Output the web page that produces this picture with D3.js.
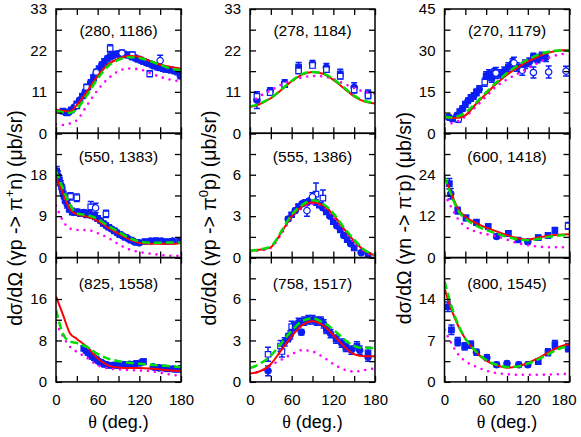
<!DOCTYPE html>
<html>
<head>
<meta charset="utf-8">
<script src="https://cdn.jsdelivr.net/npm/d3@7"></script>
<style>
  body { margin: 0; background: #fff; }
  svg { display: block; }
  text { font-family: "Liberation Sans", Arial, sans-serif; fill: #000; }
</style>
</head>
<body>
<div id="vis"></div>
<script>
const width = 581, height = 437;

// panel labels (W, E) in reading order
const panelLabels = ["(280, 1186)", "(278, 1184)", "(270, 1179)",
                     "(550, 1383)", "(555, 1386)", "(600, 1418)",
                     "(825, 1558)", "(758, 1517)", "(800, 1545)"];
const yMaxes = [33, 33, 45, 27, 9, 36, 24, 9, 21];
const yTickLabels = [[0, 11, 22, 33], [0, 11, 22, 33], [0, 15, 30, 45],
                     [0, 9, 18], [0, 3, 6], [0, 12, 24],
                     [0, 8, 16], [0, 3, 6], [0, 7, 14]];
const thetaTicks = [0, 60, 120, 180];
const yTitles = [["dσ/dΩ (γp -> π", "+", "n) (μb/sr)"],
                 ["dσ/dΩ (γp -> π", "0", "p) (μb/sr)"],
                 ["dσ/dΩ (γn -> π", "-", "p) (μb/sr)"]];

// model curves, sampled on thetaGrid
const thetaGrid = [0, 10, 20, 30, 45, 60, 75, 90, 105, 120, 135, 150, 165, 180];
const redCurves = [
  [6.3, 5.9, 5.8, 7.5, 11.2, 15.2, 18.3, 19.8, 20.5, 20.3, 19.2, 18.2, 17.6, 17.2],
  [7.0, 7.4, 8.3, 9.3, 11.5, 13.8, 15.6, 16.3, 15.8, 14.2, 12.0, 9.8, 8.4, 7.9],
  [5.9, 5.5, 5.6, 6.5, 10.5, 14.3, 18.0, 21.2, 23.8, 26.0, 27.8, 29.2, 30.0, 30.2],
  [17.5, 14.0, 10.5, 9.4, 8.9, 8.0, 6.5, 5.2, 4.0, 3.2, 3.0, 3.0, 3.0, 3.2],
  [0.5, 0.55, 0.6, 0.75, 1.8, 3.0, 3.7, 4.0, 3.8, 3.1, 2.1, 1.2, 0.5, 0.15],
  [23.5, 18.5, 14.0, 11.8, 10.0, 8.7, 7.6, 6.5, 5.6, 5.2, 5.8, 6.3, 6.6, 6.8],
  [16.5, 13.0, 9.4, 8.3, 6.7, 4.5, 3.2, 2.8, 2.7, 2.7, 2.6, 2.4, 2.2, 2.1],
  [0.6, 0.7, 0.9, 1.3, 2.3, 3.3, 4.1, 4.4, 4.1, 3.4, 2.6, 2.0, 1.85, 1.85],
  [15.8, 12.2, 9.4, 7.3, 5.1, 3.6, 2.8, 2.4, 2.6, 3.2, 4.0, 5.0, 5.9, 6.4]
];
const greenCurves = [
  [6.0, 5.6, 5.4, 6.5, 10.2, 14.5, 17.8, 19.5, 20.2, 20.0, 19.2, 18.2, 17.2, 16.8],
  [7.2, 7.6, 8.4, 9.4, 11.6, 13.9, 15.7, 16.3, 15.9, 14.4, 12.2, 10.0, 8.6, 8.0],
  [6.0, 5.7, 6.2, 7.5, 11.0, 14.8, 18.5, 21.8, 24.5, 26.7, 28.4, 29.5, 30.0, 30.0],
  [18.9, 15.0, 11.5, 9.6, 9.2, 8.4, 6.9, 5.6, 4.3, 3.5, 3.2, 3.2, 3.3, 3.3],
  [0.5, 0.55, 0.65, 0.8, 1.9, 3.1, 3.8, 4.15, 3.9, 3.2, 2.2, 1.3, 0.55, 0.2],
  [23.5, 18.0, 13.5, 11.3, 9.3, 8.0, 7.0, 6.0, 5.3, 5.0, 5.4, 6.0, 6.4, 6.7],
  [13.9, 9.3, 7.8, 7.5, 6.7, 5.4, 4.5, 4.0, 3.7, 3.5, 3.3, 3.2, 3.0, 2.9],
  [1.0, 1.2, 1.5, 1.9, 2.8, 3.7, 4.4, 4.6, 4.3, 3.8, 3.1, 2.6, 2.45, 2.45],
  [17.0, 12.8, 9.6, 7.3, 5.2, 3.7, 2.9, 2.5, 2.6, 3.1, 3.8, 4.7, 5.6, 6.1]
];
const pinkCurves = [
  [2.4, 2.2, 2.6, 3.5, 7.5, 11.5, 14.5, 16.5, 17.2, 17.0, 16.0, 15.0, 14.2, 13.8],
  [8.3, 9.3, 10.5, 11.4, 12.9, 14.0, 14.8, 15.2, 15.1, 14.4, 13.2, 12.0, 11.0, 10.6],
  [3.3, 3.6, 4.5, 6.0, 9.5, 13.3, 17.0, 19.5, 21.5, 23.5, 25.5, 27.3, 28.5, 29.0],
  [11.3, 8.0, 6.3, 6.0, 6.0, 5.3, 4.3, 2.9, 1.8, 1.2, 0.9, 0.6, 0.4, 0.4],
  [0.45, 0.5, 0.55, 0.7, 1.7, 2.9, 3.6, 3.9, 3.7, 3.0, 2.0, 1.1, 0.45, 0.1],
  [18.5, 14.5, 11.0, 9.0, 7.5, 6.8, 6.2, 5.2, 4.2, 3.6, 3.2, 3.0, 3.0, 3.0],
  [11.4, 8.8, 6.8, 5.8, 4.6, 3.2, 2.6, 2.4, 2.3, 2.2, 2.1, 1.8, 1.4, 1.2],
  [0.6, 0.7, 0.9, 1.2, 1.6, 2.0, 2.3, 2.2, 1.8, 1.3, 0.9, 0.75, 0.85, 1.0],
  [8.8, 6.5, 4.6, 3.5, 2.6, 1.9, 1.5, 1.3, 1.2, 1.2, 1.2, 1.25, 1.3, 1.4]
];

// measurements: [theta, dsigma, error, dataset]  (dataset 0/1 filled, 2/3 open)
const points = [
  [[10,5.9,0.5,1],[13,5.6,0.5,0],[16,5.4,0.5,1],[19,5.7,0.5,0],[22,6.2,0.5,1],[26,6.9,0.5,0],
   [30,7.8,0.6,1],[34,8.8,0.6,0],[38,9.9,0.6,1],[42,11.0,0.6,0],[46,12.3,0.6,1],[50,13.5,0.7,0],
   [54,14.8,0.7,1],[58,16.0,0.7,0],[62,17.1,0.7,1],[66,18.2,0.7,0],[70,19.1,0.7,1],[74,19.8,0.7,0],
   [78,20.3,0.7,1],[82,20.7,0.7,0],[86,21.0,0.7,1],[90,21.1,0.7,0],[94,21.1,0.7,1],[98,21.0,0.7,0],
   [102,20.8,0.7,1],[106,20.6,0.7,0],[110,20.3,0.7,1],[114,20.0,0.7,0],[118,19.7,0.7,1],[122,19.4,0.7,0],
   [126,19.1,0.7,1],[130,18.8,0.7,0],[134,18.5,0.7,1],[138,18.2,0.7,0],[142,17.9,0.7,1],[146,17.6,0.7,0],
   [150,17.4,0.7,1],[154,17.2,0.7,0],[158,17.0,0.7,1],[162,16.9,0.7,0],[166,16.8,0.7,1],[170,16.6,0.7,0],
   [175,16.3,0.7,1],[179,15.3,0.8,0],
   [30,7.3,0.6,3],[44,12.2,0.8,3],[58,16.2,0.8,2],[78,22.5,1.0,3],[95,21.3,0.8,2],[110,20.8,0.8,3],
   [135,15.8,0.8,3],[150,19.3,1.4,2]],
  [[10,8.8,2.2,0],[10,9.8,1.2,3],[29,11.3,0.8,0],[29,10.8,0.6,3],[50,13.4,0.8,0],[50,12.9,0.6,3],
   [70,17.6,1.2,1],[70,16.6,0.8,3],[90,18.5,0.8,0],[90,18.0,0.6,3],[110,17.5,1.0,0],[110,16.9,0.7,3],
   [130,15.8,1.2,1],[130,15.2,0.8,3],[150,12.2,1.2,0],[150,11.5,0.8,3],[170,10.5,1.0,1],[170,10.0,0.8,3]],
  [[6,5.8,0.8,0],[12,5.2,0.8,1],[18,6.5,0.8,0],[22,7.8,1.0,1],[26,9.0,1.0,0],[30,10.5,1.0,1],
   [34,11.8,1.0,0],[38,12.8,1.2,1],[42,13.5,1.2,0],[46,14.8,1.2,1],[50,16.0,1.2,0],[60,20.8,1.5,1],
   [64,21.5,1.5,0],[68,20.0,1.5,1],[72,22.0,1.5,0],[80,21.5,1.5,1],[86,22.5,1.5,0],[92,24.0,1.5,1],
   [98,25.5,1.5,0],[104,24.0,1.5,1],[110,23.5,1.5,0],[116,25.0,1.5,1],[122,25.8,1.5,0],[128,27.5,1.5,1],
   [134,27.0,1.5,0],[140,27.8,1.5,1],[146,27.5,1.5,0],
   [20,5.0,1.0,2],[58,18.5,1.5,3],[74,21.8,2.0,2],[100,25.5,2.0,2],[112,22.8,1.8,2],[128,22.0,2.0,2],
   [150,22.2,2.2,2],[175,22.5,1.8,2]],
  [[1,18.8,1.0,1],[3,17.8,1.0,0],[5,16.8,1.0,1],[7,15.8,0.9,0],[9,14.8,0.9,1],[11,13.6,0.8,0],
   [13,12.6,0.8,1],[16,11.6,0.8,0],[19,10.6,0.7,1],[23,10.0,0.7,0],[27,9.8,0.6,1],[31,9.9,0.6,0],
   [35,9.6,0.6,1],[40,9.8,0.6,0],[44,9.3,0.6,1],[48,9.6,0.6,0],[52,9.2,0.6,1],[56,8.9,0.6,0],
   [60,8.5,0.6,1],[64,8.0,0.5,0],[68,7.4,0.5,1],[72,7.0,0.5,0],[76,6.6,0.5,1],[80,6.2,0.5,0],
   [84,5.8,0.5,1],[88,5.4,0.5,0],[92,5.0,0.5,1],[96,4.7,0.4,0],[100,4.4,0.4,1],[104,4.1,0.4,0],
   [108,3.8,0.4,1],[112,3.5,0.4,0],[116,3.3,0.4,1],[120,3.2,0.4,0],[128,3.5,0.4,1],[136,3.6,0.4,0],
   [144,3.7,0.4,1],[152,3.6,0.4,0],[160,3.5,0.4,1],[168,3.6,0.4,0],[178,3.7,0.4,1],
   [15,13.1,0.8,3],[21,13.3,0.8,3],[30,13.0,0.8,3],[50,11.0,1.2,3],[57,10.8,1.0,2],[72,9.5,0.8,3]],
  [[55,2.8,0.15,0],[60,3.1,0.15,1],[65,3.4,0.15,0],[70,3.7,0.15,1],[75,3.9,0.15,0],[80,4.0,0.15,1],
   [85,4.1,0.15,0],[90,4.1,0.15,1],[95,4.0,0.15,0],[100,3.8,0.15,1],[105,3.6,0.15,0],[110,3.3,0.15,1],
   [115,3.0,0.15,0],[120,2.6,0.15,1],[125,2.3,0.15,0],[130,2.0,0.15,1],[135,1.6,0.15,0],[140,1.3,0.15,1],
   [145,1.0,0.15,0],[150,0.7,0.15,1],[160,0.35,0.1,0],[170,0.15,0.1,1],
   [82,3.4,0.4,2],[95,4.6,0.8,3],[105,4.3,0.6,3],[90,4.4,0.3,2]],
  [[7,21.4,1.5,1],[9,18.5,1.5,0],[19,13.6,1.0,1],[31,11.5,0.8,1],[46,10.2,0.8,1],[63,9.0,0.7,1],
   [75,6.1,0.6,0],[92,7.0,0.7,1],[106,5.1,0.6,1],[120,4.6,0.6,0],[135,5.8,0.6,1],[149,6.4,0.7,1],
   [159,7.9,0.8,1],[178,9.2,1.0,3]],
  [[40,6.5,0.5,1],[43,6.1,0.5,0],[46,5.7,0.5,1],[49,5.3,0.5,0],[52,4.9,0.4,1],[55,4.6,0.4,0],
   [58,4.3,0.4,1],[61,4.0,0.4,0],[64,3.8,0.4,1],[67,3.6,0.4,0],[70,3.4,0.4,1],[74,3.3,0.4,0],
   [78,3.2,0.4,1],[82,3.2,0.4,0],[86,3.2,0.4,1],[90,3.2,0.4,0],[94,3.3,0.4,1],[98,3.3,0.4,0],
   [102,3.3,0.4,1],[106,3.4,0.4,0],[110,3.4,0.4,1],[114,3.5,0.4,0],[118,3.6,0.4,1],[122,3.7,0.4,0],
   [126,3.9,0.5,1],[140,2.9,0.4,0],[144,2.8,0.4,1],[148,2.7,0.4,0],[152,2.7,0.4,1],[158,2.6,0.4,0],
   [164,2.5,0.4,1],[170,2.5,0.4,0],[176,2.4,0.4,1],[180,2.6,0.5,0]],
  [[26,0.8,0.35,0],[26,2.0,0.5,3],[44,2.6,0.4,3],[46,2.2,0.4,3],[50,2.9,0.3,0],[55,3.2,0.3,1],
   [58,3.4,0.3,0],[60,4.0,0.4,3],[65,4.0,0.3,1],[70,4.3,0.3,0],[74,3.6,0.2,0],[78,4.4,0.3,1],
   [84,4.5,0.3,0],[90,4.5,0.3,1],[96,4.4,0.3,0],[102,4.4,0.3,1],[106,4.2,0.3,0],[110,3.8,0.3,1],
   [116,3.5,0.3,0],[124,3.1,0.3,1],[132,2.8,0.3,0],[138,2.5,0.3,1],[146,2.3,0.3,0],[154,2.6,0.3,1],
   [158,2.3,0.3,0],[170,2.1,0.4,1],[170,1.8,0.3,0]],
  [[5,12.7,0.8,1],[10,8.8,0.8,1],[19,6.8,0.7,1],[29,6.0,0.6,1],[38,6.3,0.6,1],[46,5.0,0.5,0],
   [61,4.1,0.5,0],[75,2.9,0.4,0],[90,3.1,0.4,0],[107,2.9,0.4,0],[120,2.9,0.4,0],[135,3.4,0.4,1],
   [149,5.0,0.6,1],[159,6.3,0.7,1],[178,5.8,0.7,1]]
];

const colX = [56, 250, 444.5];
const rowY = [9, 133.3, 257.6];
const panelW = 125, panelH = 124.3;
const titleDy = [27, 29, 31];
const blue = "#0a1ef5";

const svg = d3.select("#vis").append("svg")
    .attr("width", width)
    .attr("height", height);
const defs = svg.append("defs");

const x = d3.scaleLinear().domain([0, 180]).range([0, panelW]);
const shapes = [d3.symbolCircle, d3.symbolSquare, d3.symbolCircle, d3.symbolSquare];

panelLabels.forEach((label, i) => {
  const col = i % 3, row = Math.floor(i / 3);
  const y = d3.scaleLinear().domain([0, yMaxes[i]]).range([panelH, 0]);
  const g = svg.append("g").attr("transform", `translate(${colX[col]},${rowY[row]})`);

  defs.append("clipPath").attr("id", "clip" + i)
    .append("rect").attr("width", panelW).attr("height", panelH);
  const plot = g.append("g").attr("clip-path", `url(#clip${i})`);

  // error bars + markers
  const pts = plot.selectAll("g.pt").data(points[i]).enter().append("g")
    .attr("class", "pt")
    .attr("transform", d => `translate(${x(d[0])},0)`);
  pts.append("line")
    .attr("y1", d => y(d[1] - d[2])).attr("y2", d => y(d[1] + d[2]))
    .attr("stroke", blue).attr("stroke-width", 1.5);
  pts.append("line").attr("x1", -3).attr("x2", 3)
    .attr("y1", d => y(d[1] - d[2])).attr("y2", d => y(d[1] - d[2]))
    .attr("stroke", blue).attr("stroke-width", 1.5);
  pts.append("line").attr("x1", -3).attr("x2", 3)
    .attr("y1", d => y(d[1] + d[2])).attr("y2", d => y(d[1] + d[2]))
    .attr("stroke", blue).attr("stroke-width", 1.5);
  pts.append("path")
    .attr("transform", d => `translate(0,${y(d[1])})`)
    .attr("d", d => d3.symbol(shapes[d[3]], d[3] === 1 || d[3] === 3 ? 30 : 32)())
    .attr("fill", d => d[3] < 2 ? blue : "#fff")
    .attr("stroke", blue).attr("stroke-width", 1.2);

  // model curves
  const line = d3.line()
    .x((d, j) => x(thetaGrid[j]))
    .y(d => y(d))
    .curve(d3.curveMonotoneX);
  plot.append("path").datum(pinkCurves[i]).attr("d", line)
    .attr("fill", "none").attr("stroke", "#ff00ff").attr("stroke-width", 2.6)
    .attr("stroke-linecap", "round").attr("stroke-dasharray", "0,7");
  plot.append("path").datum(redCurves[i]).attr("d", line)
    .attr("fill", "none").attr("stroke", "#ff0000").attr("stroke-width", 2);
  plot.append("path").datum(greenCurves[i]).attr("d", line)
    .attr("fill", "none").attr("stroke", "#00dd00").attr("stroke-width", 2.5)
    .attr("stroke-dasharray", "8,4");

  // axes, ticks pointing inward on all four sides
  const labels = yTickLabels[i];
  const step = labels[1] - labels[0];
  const yTicks = d3.range(0, yMaxes[i] + 1e-6, step / 2);
  const xTicks = d3.range(0, 181, 30);
  const style = ax => {
    ax.select(".domain").remove();
    ax.selectAll("line").attr("stroke", "#000").attr("stroke-width", 1.3);
    ax.selectAll("text").attr("font-size", 15).attr("font-family", "Liberation Sans, Arial, sans-serif");
  };
  g.append("g").call(d3.axisLeft(y).tickValues(yTicks).tickSize(-6).tickPadding(9)
      .tickFormat(d => labels.includes(d) ? d : "")).call(style);
  g.append("g").attr("transform", `translate(${panelW},0)`)
    .call(d3.axisRight(y).tickValues(yTicks).tickSize(-6).tickFormat("")).call(style);
  g.append("g")
    .call(d3.axisTop(x).tickValues(xTicks).tickSize(-6).tickFormat("")).call(style);
  const bottom = g.append("g").attr("transform", `translate(0,${panelH})`)
    .call(d3.axisBottom(x).tickValues(xTicks).tickSize(-6).tickPadding(12)
      .tickFormat(d => row === 2 && thetaTicks.includes(d) ? d : "")).call(style);
  if (col === 2) {
    // keep the last label inside the picture
    bottom.selectAll(".tick text").filter(d => d === 180).attr("dx", -6);
  }

  g.append("rect").attr("width", panelW).attr("height", panelH)
    .attr("fill", "none").attr("stroke", "#000").attr("stroke-width", 1.5);

  g.append("text")
    .attr("x", panelW / 2).attr("y", titleDy[row])
    .attr("text-anchor", "middle").attr("font-size", 15.5)
    .text(label);
});

// y titles, one per column
yTitles.forEach((t, c) => {
  const txt = svg.append("text")
    .attr("transform", `translate(${colX[c] - 34},${218}) rotate(-90)`)
    .attr("text-anchor", "middle").attr("font-size", 19.5);
  txt.append("tspan").text(t[0]);
  txt.append("tspan").attr("dy", -8).attr("font-size", 13).text(t[1]);
  txt.append("tspan").attr("dy", 8).text(t[2]);
});

// x titles
colX.forEach(cx => {
  const txt = svg.append("text")
    .attr("x", cx + panelW / 2).attr("y", 428)
    .attr("text-anchor", "middle").attr("font-size", 18);
  txt.append("tspan").attr("font-family", "Liberation Serif, Times New Roman, serif").text("θ");
  txt.append("tspan").text(" (deg.)");
});
</script>
</body>
</html>
